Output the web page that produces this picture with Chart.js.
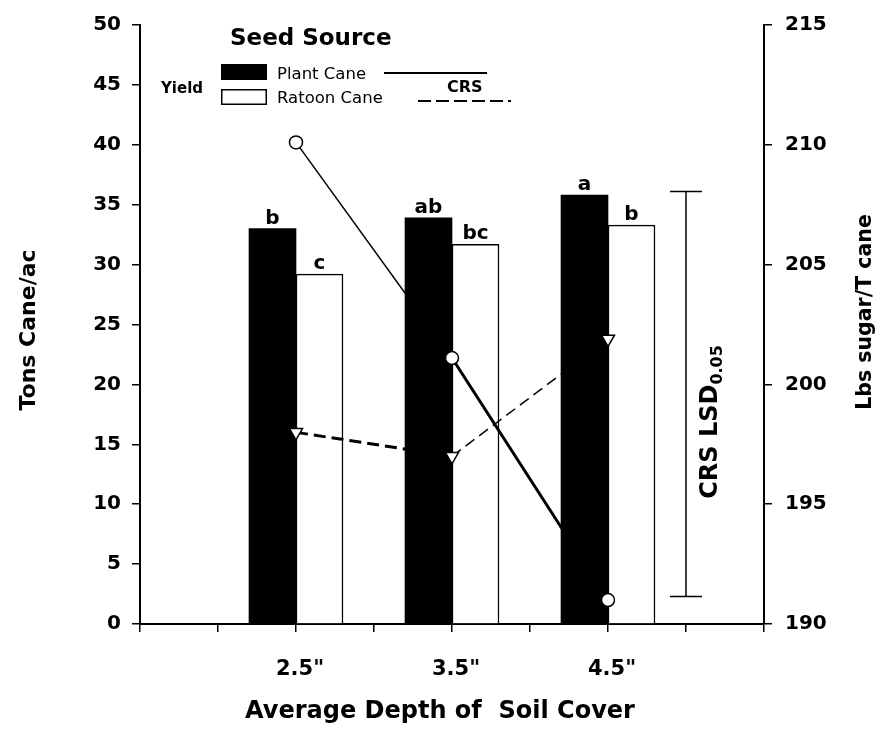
<!DOCTYPE html>
<html>
<head>
<meta charset="utf-8">
<script src="https://cdn.jsdelivr.net/npm/chart.js@4.4.1/dist/chart.umd.min.js"></script>
<style>
  html, body { margin: 0; padding: 0; background: #fff; }
  #wrap { width: 883px; height: 746px; }
</style>
</head>
<body>
<div id="wrap"><canvas id="chart" width="883" height="746"></canvas></div>
<script>
// soil cover depth (inches) and the tick labels shown for them
const depths = [2.5, 3.5, 4.5];
const depthLabels = ['2.5"', '3.5"', '4.5"'];

// yield, tons cane/ac (left axis)
const plantYield = [33.0, 33.9, 35.8];
const ratoonYield = [29.2, 31.7, 33.3];
const plantLetters = ['b', 'ab', 'a'];
const ratoonLetters = ['c', 'bc', 'b'];

// CRS, lbs sugar/T cane (right axis)
const plantCRS = [210.1, 201.1, 191.0];
const ratoonCRS = [198.0, 197.0, 201.9];

// CRS LSD 0.05 bar
const lsdX = 5.0;
const lsdRange = [191.15, 208.05];

const FONT = '"DejaVu Sans", "Liberation Sans", Arial, sans-serif';

function toPoints(values) {
    return depths.map((d, i) => ({ x: d, y: values[i] }));
}

function rotatedText(ctx, text, x, y, font) {
    ctx.save();
    ctx.translate(x, y);
    ctx.rotate(-Math.PI / 2);
    ctx.font = font;
    ctx.textAlign = 'center';
    ctx.textBaseline = 'middle';
    ctx.fillText(text, 0, 0);
    ctx.restore();
}

// letters, LSD bar, legend and axis titles
const extras = {
    id: 'extras',
    afterDatasetsDraw(chart) {
        const ctx = chart.ctx;
        const xScale = chart.scales.x;
        const crsScale = chart.scales.y2;
        ctx.save();
        ctx.fillStyle = '#000';
        ctx.strokeStyle = '#000';

        // significance letters above the bars
        ctx.font = 'bold 20px ' + FONT;
        ctx.textAlign = 'center';
        ctx.textBaseline = 'alphabetic';
        [plantLetters, ratoonLetters].forEach((letters, di) => {
            chart.getDatasetMeta(di).data.forEach((bar, i) => {
                ctx.fillText(letters[i], bar.x, bar.y - 5);
            });
        });

        // LSD bar
        const lx = xScale.getPixelForValue(lsdX);
        const ly1 = crsScale.getPixelForValue(lsdRange[0]);
        const ly2 = crsScale.getPixelForValue(lsdRange[1]);
        ctx.lineWidth = 1.5;
        ctx.beginPath();
        ctx.moveTo(lx, ly1); ctx.lineTo(lx, ly2);
        ctx.moveTo(lx - 16, ly1); ctx.lineTo(lx + 16, ly1);
        ctx.moveTo(lx - 16, ly2); ctx.lineTo(lx + 16, ly2);
        ctx.stroke();

        // LSD label with subscript, rotated
        ctx.save();
        ctx.translate(lx + 25, 422);
        ctx.rotate(-Math.PI / 2);
        ctx.textBaseline = 'middle';
        ctx.textAlign = 'left';
        const mainFont = 'bold 24px ' + FONT;
        const subFont = 'bold 16px ' + FONT;
        ctx.font = mainFont;
        const w1 = ctx.measureText('CRS LSD').width;
        ctx.font = subFont;
        const w2 = ctx.measureText('0.05').width;
        const start = -(w1 + w2) / 2;
        ctx.font = mainFont;
        ctx.fillText('CRS LSD', start, 0);
        ctx.font = subFont;
        ctx.fillText('0.05', start + w1, 7);
        ctx.restore();

        // legend
        ctx.textAlign = 'left';
        ctx.textBaseline = 'alphabetic';
        ctx.font = 'bold 23px ' + FONT;
        ctx.fillText('Seed Source', 230, 45);
        ctx.font = 'bold 15px ' + FONT;
        ctx.fillText('Yield', 161, 93);
        ctx.fillRect(221, 64, 46, 16);
        ctx.lineWidth = 1.5;
        ctx.strokeRect(221.75, 89.75, 44.5, 14.5);
        ctx.font = '16.5px ' + FONT;
        ctx.fillText('Plant Cane', 277, 79);
        ctx.fillText('Ratoon Cane', 277, 103);
        ctx.lineWidth = 2;
        ctx.beginPath();
        ctx.moveTo(384, 73); ctx.lineTo(487, 73);
        ctx.stroke();
        ctx.font = 'bold 16px ' + FONT;
        ctx.fillText('CRS', 447, 92);
        ctx.setLineDash([13, 5]);
        ctx.beginPath();
        ctx.moveTo(418, 101); ctx.lineTo(511, 101);
        ctx.stroke();
        ctx.setLineDash([]);

        // axis titles
        rotatedText(ctx, 'Tons Cane/ac', 29, 330, 'bold 22px ' + FONT);
        rotatedText(ctx, 'Lbs sugar/T cane', 866, 312, 'bold 20.5px ' + FONT);
        ctx.font = 'bold 24px ' + FONT;
        ctx.textAlign = 'center';
        ctx.textBaseline = 'middle';
        ctx.fillText('Average Depth of  Soil Cover', 440, 712);

        ctx.restore();
    }
};

const tickFont = { family: FONT, size: 20, weight: 'bold' };
const axisGrid = { drawOnChartArea: false, color: '#000', lineWidth: 1.5, tickLength: 8 };
const axisBorder = { color: '#000', width: 2 };

new Chart(document.getElementById('chart'), {
    type: 'bar',
    data: {
        datasets: [
            {
                label: 'Plant Cane',
                data: toPoints(plantYield),
                backgroundColor: '#000',
                borderColor: '#000',
                borderWidth: 0,
                barThickness: 47,
                yAxisID: 'y',
                order: 2
            },
            {
                label: 'Ratoon Cane',
                data: toPoints(ratoonYield),
                backgroundColor: '#fff',
                borderColor: '#000',
                borderWidth: 1.5,
                barThickness: 47,
                yAxisID: 'y',
                order: 2
            },
            {
                type: 'line',
                label: 'Plant Cane CRS',
                data: toPoints(plantCRS),
                yAxisID: 'y2',
                borderColor: '#000',
                borderWidth: 1.5,
                pointStyle: 'circle',
                pointRadius: 6.5,
                pointBackgroundColor: '#fff',
                pointBorderColor: '#000',
                pointBorderWidth: 1.5,
                segment: {
                    borderWidth: c => c.p0DataIndex === 0 ? 1.5 : 3
                },
                order: 1
            },
            {
                type: 'line',
                label: 'Ratoon Cane CRS',
                data: toPoints(ratoonCRS),
                yAxisID: 'y2',
                borderColor: '#000',
                borderWidth: 3,
                borderDash: [12, 6],
                pointStyle: 'triangle',
                pointRotation: 180,
                pointRadius: 7.5,
                pointBackgroundColor: '#fff',
                pointBorderColor: '#000',
                pointBorderWidth: 1.5,
                segment: {
                    borderWidth: c => c.p0DataIndex === 0 ? 3 : 1.5,
                    borderDash: c => c.p0DataIndex === 0 ? [12, 6] : [11, 6]
                },
                order: 1
            }
        ]
    },
    options: {
        responsive: false,
        animation: false,
        layout: { padding: { top: 19, left: 0, right: 0, bottom: 0 } },
        plugins: {
            legend: { display: false },
            tooltip: { enabled: false }
        },
        scales: {
            x: {
                type: 'linear',
                position: 'bottom',
                min: 1.5,
                max: 5.5,
                offset: false,
                grid: Object.assign({}, axisGrid, { offset: false }),
                border: axisBorder,
                ticks: {
                    stepSize: 0.5,
                    autoSkip: false,
                    maxRotation: 0,
                    padding: 25,
                    labelOffset: 4,
                    color: '#000',
                    font: { family: FONT, size: 21, weight: 'bold' },
                    callback: v => {
                        const i = depths.findIndex(d => Math.abs(d - v) < 1e-6);
                        return i >= 0 ? depthLabels[i] : '';
                    }
                },
                afterFit: s => { s.height = 122; }
            },
            y: {
                type: 'linear',
                position: 'left',
                min: 0,
                max: 50,
                grid: axisGrid,
                border: axisBorder,
                ticks: { stepSize: 5, padding: 11, color: '#000', font: tickFont },
                afterFit: s => { s.width = 140; }
            },
            y2: {
                type: 'linear',
                position: 'right',
                min: 190,
                max: 215,
                grid: axisGrid,
                border: axisBorder,
                ticks: { stepSize: 5, padding: 13, color: '#000', font: tickFont },
                afterFit: s => { s.width = 119; }
            }
        }
    },
    plugins: [extras]
});
</script>
</body>
</html>
